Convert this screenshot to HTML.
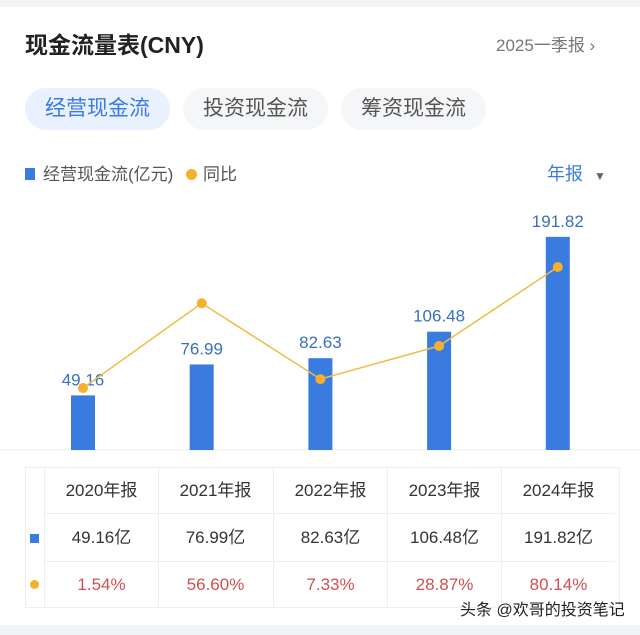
<!DOCTYPE html>
<html><head><meta charset="utf-8"><style>
body{margin:0;width:640px;height:635px;background:#fff;font-family:"Liberation Sans","Noto Sans CJK SC",sans-serif;position:relative;overflow:hidden}
.abs{position:absolute}
.tab{position:absolute;top:88px;height:42px;border-radius:21px;background:#f5f6f8;color:#555;font-size:21px;line-height:42px;text-align:center}
</style></head><body>
<div class="abs" style="left:0;top:0;width:640px;height:7px;background:#f2f3f5"></div>
<div class="abs" style="left:25px;top:26px;font-size:23px;color:#222;font-weight:bold">现金流量表(CNY)</div>
<div class="abs" style="left:496px;top:31px;font-size:17px;color:#777">2025一季报 ›</div>
<div class="tab" style="left:25px;width:145px;background:#e8f1fd;color:#3a7be0">经营现金流</div>
<div class="tab" style="left:183px;width:145px">投资现金流</div>
<div class="tab" style="left:341px;width:145px">筹资现金流</div>
<div class="abs" style="left:25px;top:160px;font-size:17px;color:#555"><span style="display:inline-block;width:10px;height:12px;background:#3a7be0;margin-right:8px"></span>经营现金流(亿元) <span style="display:inline-block;width:11px;height:11px;border-radius:50%;background:#f5b02e;margin:0 6px 0 8px"></span>同比</div>
<div class="abs" style="left:547px;top:160px;font-size:18px;color:#3a7be0">年报 <span style="color:#666;font-size:12px;margin-left:6px">▼</span></div>
<svg class="abs" style="left:0;top:0" width="640" height="635">
<line x1="0" y1="450" x2="640" y2="450" stroke="#eee"/>
<g id="bars"></g><g id="line"></g>
</svg>
<div class="abs" style="left:25px;top:467px;width:595px;height:141px;border:1px solid #eee;box-sizing:border-box"></div>
<div id="tbl"></div>
<div class="abs" style="left:460px;top:596px;font-size:16px;color:#222">头条 @欢哥的投资笔记</div>
<div class="abs" style="left:0;top:625px;width:640px;height:10px;background:#f2f3f5"></div>
<script>
const categories=["2020年报","2021年报","2022年报","2023年报","2024年报"];
const values=[49.16,76.99,82.63,106.48,191.82];
const yoy=[1.54,56.60,7.33,28.87,80.14];
const valueLabels=["49.16","76.99","82.63","106.48","191.82"];
const yoyLabels=["1.54%","56.60%","7.33%","28.87%","80.14%"];
const NS="http://www.w3.org/2000/svg";
const xBar=i=>83+i*118.7, yBar=v=>450-v*1.111, yLine=p=>390.4-p*1.54;
const bars=document.getElementById('bars'),lg=document.getElementById('line');
let pts=[];
values.forEach((v,i)=>{
 const r=document.createElementNS(NS,'rect');
 
 
 r.setAttribute('x',xBar(i)-12);r.setAttribute('y',yBar(v));r.setAttribute('width',24);r.setAttribute('height',450-yBar(v));r.setAttribute('fill','#3a7be0');
 bars.appendChild(r);
 const t=document.createElementNS(NS,'text');
 
 
 t.setAttribute('x',xBar(i));t.setAttribute('y',yBar(v)-10);t.setAttribute('text-anchor','middle');t.setAttribute('font-size','17');t.setAttribute('fill','#3a6fc0');t.setAttribute('font-family','Liberation Sans, sans-serif');
 t.textContent=valueLabels[i];bars.appendChild(t);
 pts.push(xBar(i)+','+yLine(yoy[i]));
});
const pl=document.createElementNS(NS,'polyline');


pl.setAttribute('points',pts.join(' '));pl.setAttribute('fill','none');pl.setAttribute('stroke','#f0bc45');pl.setAttribute('stroke-width','1.5');
lg.appendChild(pl);
yoy.forEach((p,i)=>{
 const c=document.createElementNS(NS,'circle');
 
 
 c.setAttribute('cx',xBar(i));c.setAttribute('cy',yLine(p));c.setAttribute('r',5);c.setAttribute('fill','#f5b02e');
 lg.appendChild(c);
});
const tbl=document.getElementById('tbl');
const colL=[44,158,273,387,501],colW=114;
const rows=[467,514,562];
function cell(x,y,w,h,txt,color,name){
 const d=document.createElement('div');
 
 
 d.className='abs';
 d.style.cssText=`left:${x}px;top:${y}px;width:${w}px;height:${h}px;line-height:${h}px;text-align:center;font-size:17px;color:${color};border-left:1px solid #eee;border-bottom:1px solid #eee;box-sizing:border-box`;
 d.textContent=txt;tbl.appendChild(d);
}
categories.forEach((c,i)=>{
 cell(colL[i],rows[0],colW,47,c,'#333','table-header-cell');
 cell(colL[i],rows[1],colW,48,valueLabels[i]+'亿','#333','table-value-cell');
 cell(colL[i],rows[2],colW,46,yoyLabels[i],'#d05050','table-yoy-cell');
});
const s1=document.createElement('div');


s1.className='abs';s1.style.cssText='left:30px;top:534px;width:9px;height:9px;background:#3a7be0';tbl.appendChild(s1);
const s2=document.createElement('div');


s2.className='abs';s2.style.cssText='left:30px;top:580px;width:9px;height:9px;border-radius:50%;background:#f5b02e';tbl.appendChild(s2);
</script>
</body></html>
